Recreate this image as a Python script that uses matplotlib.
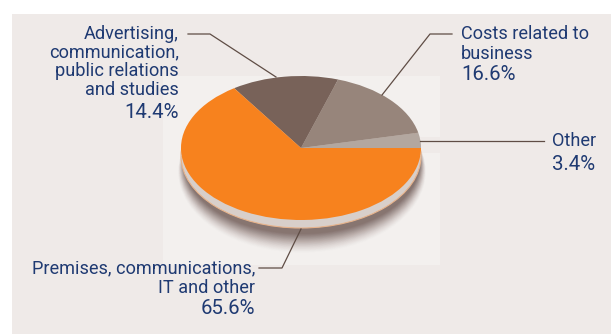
import numpy as np
import matplotlib.pyplot as plt
from matplotlib.patches import Ellipse, Rectangle

categories = ["Other", "Costs related to\nbusiness", "Advertising,\ncommunication,\npublic relations\nand studies",
              "Premises, communications,\nIT and other"]
shares = [3.4, 16.6, 14.4, 65.6]
colors = ["#b3a79f", "#97857b", "#786259", "#f7821e"]

W, H = 611, 334
navy = "#1f3a72"
line_col = "#5f4d45"
plt.rcParams["font.family"] = ["Roboto", "DejaVu Sans"]

fig = plt.figure(figsize=(W / 100, H / 100), dpi=100, facecolor="white")

# page layer in pixel coords
bg = fig.add_axes([0, 0, 1, 1])
bg.set_xlim(0, W)
bg.set_ylim(H, 0)
bg.axis("off")
bg.add_patch(Rectangle((12, 14), W - 12, H - 14, fc="#efeae8", ec="none"))
bg.add_patch(Rectangle((163, 76), 277, 61, fc="#f3f0ee", ec="none"))
bg.add_patch(Rectangle((163, 153), 277, 112, fc="#f3f0ee", ec="none"))
bg.add_patch(Rectangle((163, 137), 200, 16, fc="#f3f0ee", ec="none"))

cx, cy, rx, ry = 301, 148, 120, 72

# soft shadow under the disc
n = 30
for i in range(n):
    t = i / (n - 1)
    bg.add_patch(Ellipse((cx + 1, cy + 24 - 10 * t), 2 * (rx + 4 - 6 * t), 2 * (ry + 9 - 9 * t),
                         fc="#4a342a", ec="none", alpha=0.005 + 0.05 * t))
# side of the disc
bg.add_patch(Ellipse((cx, cy + 8), 2 * rx, 2 * ry, fc="#d8cfca", ec="#e8b48c", lw=0.8))
bg.add_patch(Rectangle((cx - rx, cy), 2 * rx, 8, fc="#d8cfca", ec="none"))

# pie in its own axes, squashed to the ellipse
ax = fig.add_axes([(cx - rx) / W, 1 - (cy + ry) / H, 2 * rx / W, 2 * ry / H])
ax.pie(shares, colors=colors, startangle=0, counterclock=True, radius=1)
ax.set_aspect("auto")
ax.set_xlim(-1, 1)
ax.set_ylim(-1, 1)
ax.patch.set_alpha(0)

bg.set_zorder(0)
ax.set_zorder(1)
top = fig.add_axes([0, 0, 1, 1], zorder=2)
top.set_xlim(0, W)
top.set_ylim(H, 0)
top.axis("off")

# leader lines
top.plot([188, 210, 276], [34, 34, 77], color=line_col, lw=0.9)
top.plot([452, 430, 382], [34, 34, 95], color=line_col, lw=0.9)
top.plot([420, 544], [141, 141], color=line_col, lw=0.9)
top.plot([259, 282, 301], [268, 268, 229], color=line_col, lw=0.9)

fs = 13.1
pct = 14.7
top.text(179, 62, categories[2], ha="right", va="center", color=navy, fontsize=fs, linespacing=1.03)
top.text(179, 113, f"{shares[2]}%", ha="right", va="center", color=navy, fontsize=pct)
top.text(461, 44, categories[1], ha="left", va="center", color=navy, fontsize=fs, linespacing=1.13)
top.text(461, 75, f"{shares[1]}%", ha="left", va="center", color=navy, fontsize=pct)
top.text(552, 141, categories[0], ha="left", va="center", color=navy, fontsize=fs)
top.text(552, 165, f"{shares[0]}%", ha="left", va="center", color=navy, fontsize=pct)
top.text(255, 278, categories[3], ha="right", va="center", color=navy, fontsize=fs, linespacing=1.08)
top.text(255, 309, f"{shares[3]}%", ha="right", va="center", color=navy, fontsize=pct)

fig.savefig("out.png", dpi=100)
